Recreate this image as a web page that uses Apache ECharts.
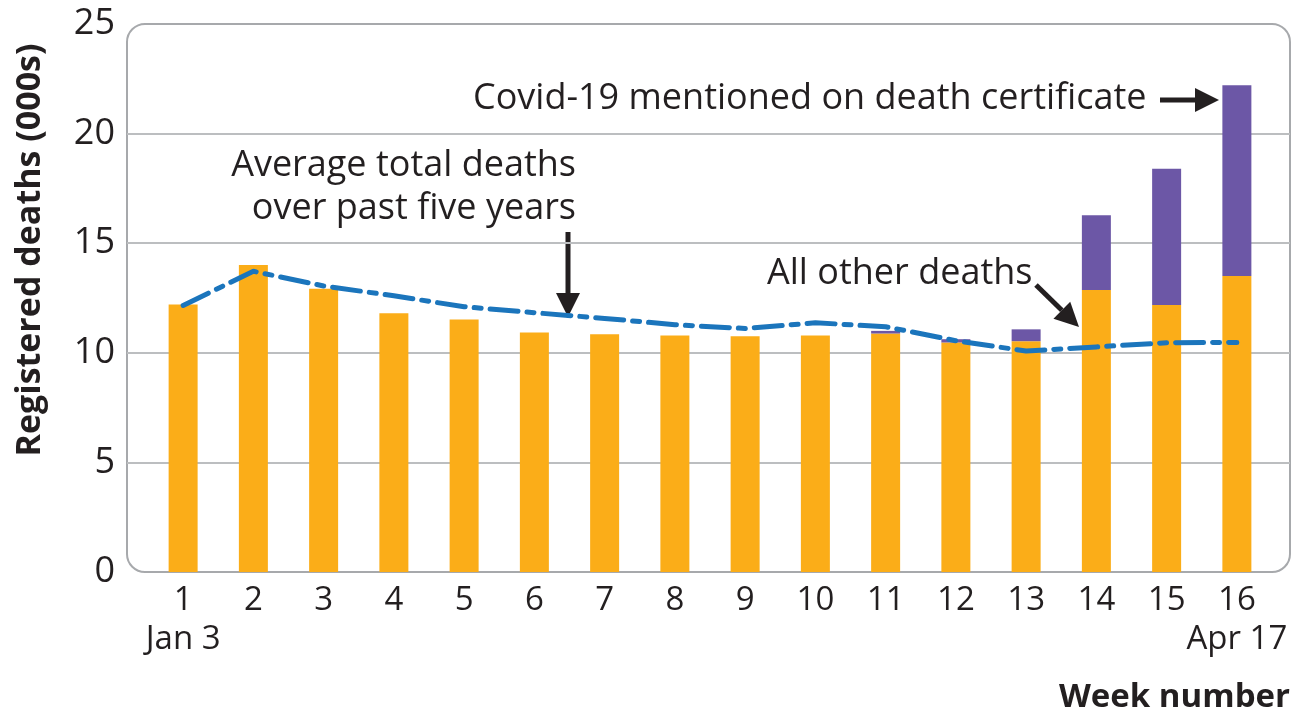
<!DOCTYPE html>
<html>
<head>
<meta charset="utf-8">
<script src="https://cdn.jsdelivr.net/npm/echarts@6/dist/echarts.min.js"></script>
<style>
  html, body { margin: 0; padding: 0; background: #fff; }
  #chart { width: 1306px; height: 718px; }
</style>
</head>
<body>
<div id="chart"></div>
<script>
// week numbers and the two dates shown under the first and last week
var weeks = ['1', '2', '3', '4', '5', '6', '7', '8', '9', '10', '11', '12', '13', '14', '15', '16'];
var weekDates = ['Jan 3', '', '', '', '', '', '', '', '', '', '', '', '', '', '', 'Apr 17'];

// registered deaths, thousands
var otherDeaths = [12.2, 14.0, 12.92, 11.8, 11.52, 10.93, 10.85, 10.79, 10.75, 10.79, 10.88, 10.47, 10.53, 12.86, 12.18, 13.5];
var covidDeaths = [0, 0, 0, 0, 0, 0, 0, 0, 0, 0, 0.12, 0.15, 0.54, 3.41, 6.22, 8.71];
var fiveYearAvg = [12.16, 13.72, 13.05, 12.6, 12.1, 11.83, 11.57, 11.28, 11.11, 11.37, 11.19, 10.55, 10.08, 10.27, 10.46, 10.47];

var yTicks = [0, 5, 10, 15, 20, 25];

var font = '"Open Sans", "Noto Sans", sans-serif';
var ink = '#231f20';

// frame (rounded box) and the narrower data area inside it
var box = { left: 127, top: 24, right: 16, bottom: 146 };
var plot = { left: 148, top: 24, right: 34, bottom: 146 };

var chart = echarts.init(document.getElementById('chart'));

function arrow (x1, y1, x2, y2) {
  var a = Math.atan2(y2 - y1, x2 - x1);
  var len = 24, half = 12;
  var bx = x2 - len * Math.cos(a), by = y2 - len * Math.sin(a);
  var px = -Math.sin(a) * half, py = Math.cos(a) * half;
  return [
    {
      type: 'line',
      shape: { x1: x1, y1: y1, x2: bx, y2: by },
      style: { stroke: ink, lineWidth: 5 }
    },
    {
      type: 'polygon',
      shape: { points: [[x2, y2], [bx + px, by + py], [bx - px, by - py]] },
      style: { fill: ink }
    }
  ];
}

function label (text, x, y, align) {
  return {
    type: 'text',
    z: 10,
    style: { text: text, x: x, y: y, align: align || 'left', verticalAlign: 'middle',
      font: '36px ' + font, fill: ink }
  };
}

var graphics = [
  {
    type: 'rect',
    shape: { x: box.left, y: box.top, width: 1306 - box.left - box.right, height: 718 - box.top - box.bottom, r: 18 },
    style: { fill: 'none', stroke: '#a7a9ac', lineWidth: 2 },
    z: 0
  },
  label('Covid-19 mentioned on death certificate', 473, 99),
  label('Average total deaths', 576, 166, 'right'),
  label('over past five years', 576, 209, 'right'),
  label('All other deaths', 767, 274),
  {
    type: 'text',
    x: 30, y: 250, rotation: Math.PI / 2,
    style: { text: 'Registered deaths (000s)', align: 'center', verticalAlign: 'middle',
      font: 'bold 34px ' + font, fill: ink }
  },
  {
    type: 'text',
    style: { text: 'Week number', x: 1290, y: 698, align: 'right', verticalAlign: 'middle',
      font: 'bold 33px ' + font, fill: ink }
  }
].concat(arrow(1160, 100, 1219, 100))
  .concat(arrow(568, 232, 568, 317))
  .concat(arrow(1036, 285, 1079, 327));

var option = {
  animation: false,
  backgroundColor: '#fff',
  grid: [
    { left: box.left, top: box.top, right: box.right, bottom: box.bottom },
    { left: plot.left, top: plot.top, right: plot.right, bottom: plot.bottom }
  ],
  xAxis: [
    { gridIndex: 0, type: 'value', min: 0, max: 1, show: false },
    {
      gridIndex: 1,
      type: 'category',
      data: weeks,
      axisLine: { show: false },
      axisTick: { show: false },
      axisLabel: {
        margin: 10,
        interval: 0,
        formatter: function (v, i) {
          return '{w|' + v + '}\n{d|' + (weekDates[i] || ' ') + '}';
        },
        rich: {
          w: { fontFamily: font, fontSize: 33, color: ink, lineHeight: 38 },
          d: { fontFamily: font, fontSize: 33, color: ink, lineHeight: 40 }
        }
      }
    }
  ],
  yAxis: [
    {
      gridIndex: 0,
      type: 'value',
      min: yTicks[0],
      max: yTicks[yTicks.length - 1],
      interval: 5,
      axisLine: { show: false },
      axisTick: { show: false },
      axisLabel: { margin: 12, fontFamily: font, fontSize: 36, color: ink },
      splitLine: {
        show: true,
        lineStyle: { color: ['transparent', '#bcbec0', '#bcbec0', '#bcbec0', '#bcbec0', 'transparent'], width: 2 }
      }
    },
    {
      gridIndex: 1,
      type: 'value',
      min: yTicks[0],
      max: yTicks[yTicks.length - 1],
      interval: 5,
      show: false,
      splitLine: { show: false }
    }
  ],
  series: [
    {
      name: 'All other deaths',
      type: 'bar',
      xAxisIndex: 1,
      yAxisIndex: 1,
      stack: 'total',
      barWidth: 29,
      data: otherDeaths,
      itemStyle: { color: '#fbad18' },
      z: 2
    },
    {
      name: 'Covid-19 mentioned on death certificate',
      type: 'bar',
      xAxisIndex: 1,
      yAxisIndex: 1,
      stack: 'total',
      barWidth: 29,
      data: covidDeaths,
      itemStyle: { color: '#6c57a6' },
      z: 2
    },
    {
      name: 'Average total deaths over past five years',
      type: 'line',
      xAxisIndex: 1,
      yAxisIndex: 1,
      data: fiveYearAvg,
      symbol: 'none',
      lineStyle: { color: '#1b75bc', width: 5, type: [28, 9, 7, 9], cap: 'round' },
      z: 3
    }
  ],
  graphic: graphics
};

chart.setOption(option);
</script>
</body>
</html>
